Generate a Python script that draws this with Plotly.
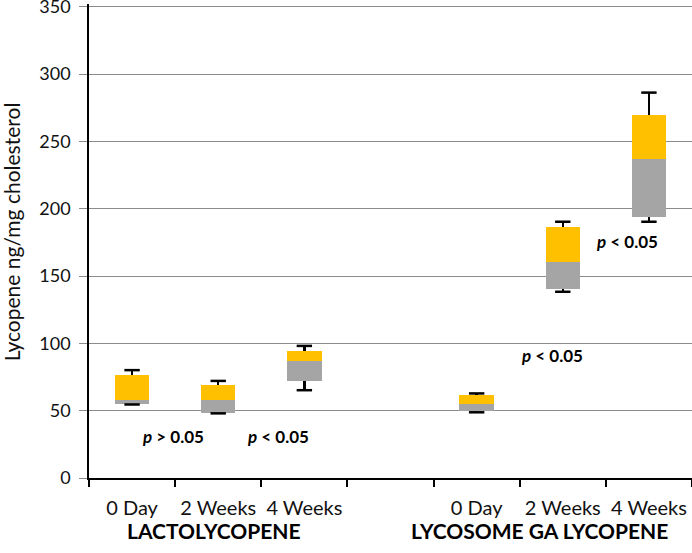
import plotly.graph_objects as go

# ---- data ----
slots = [0, 1, 2, 4, 5, 6]                       # category slot index (slot 3 is the gap)
tick_labels = ["0 Day", "2 Weeks", "4 Weeks", "", "0 Day", "2 Weeks", "4 Weeks"]
groups = ["LACTOLYCOPENE", "LYCOSOME GA LYCOPENE"]
q1 = [54.8, 48.3, 72.1, 50.1, 140.3, 193.6]
median = [57.8, 57.8, 86.8, 54.8, 160.6, 236.9]
q3 = [76.4, 68.9, 94.2, 61.5, 186.6, 269.7]
whisker_low = [54.6, 48.0, 65.2, 48.8, 138.3, 190.3]
whisker_high = [80.1, 72.1, 98.1, 62.8, 190.3, 286.2]
p_labels = ["p > 0.05", "p < 0.05", "p < 0.05", "p < 0.05"]

GRAY = "#A5A5A5"
YELLOW = "#FFC000"
FONT = "Lato"
TXT = "#111"

lower_seg = [m - a for m, a in zip(median, q1)]
upper_seg = [c - m for c, m in zip(q3, median)]

fig = go.Figure()
# invisible base bar up to Q1, carrying lower whisker stem
fig.add_trace(go.Bar(
    x=slots, y=q1, marker=dict(color="rgba(0,0,0,0)", line=dict(width=0)), width=0.4,
    hoverinfo="skip", showlegend=False,
    error_y=dict(type="data", symmetric=False,
                 array=[0] * len(q1),
                 arrayminus=[a - w for a, w in zip(q1, whisker_low)],
                 color="black", thickness=2.5, width=0),
))
fig.add_trace(go.Bar(x=slots, y=lower_seg, marker=dict(color=GRAY, line=dict(width=0)),
                     width=0.4, showlegend=False))
fig.add_trace(go.Bar(
    x=slots, y=upper_seg, marker=dict(color=YELLOW, line=dict(width=0)), width=0.4,
    showlegend=False,
    error_y=dict(type="data", symmetric=False,
                 array=[h - c for h, c in zip(whisker_high, q3)],
                 arrayminus=[0] * len(q3),
                 color="black", thickness=2.5, width=0),
))
# whisker caps
fig.add_trace(go.Scatter(
    x=slots + slots, y=whisker_high + whisker_low, mode="markers",
    marker=dict(symbol="line-ew", size=11, line=dict(color="black", width=2.5)),
    hoverinfo="skip", showlegend=False,
))

fig.update_layout(
    barmode="stack", bargap=0,
    width=692, height=553,
    margin=dict(l=89, r=0, t=4, b=75, autoexpand=False),
    plot_bgcolor="white", paper_bgcolor="white",
    font=dict(family=FONT, size=19, color=TXT),
)
fig.update_xaxes(
    range=[-0.5, 6.5], tickmode="array", automargin=False,
    tickvals=list(range(len(tick_labels))), ticktext=tick_labels,
    ticks="", showgrid=False, zeroline=False,
    showline=True, linecolor="black", linewidth=1.5,
    ticklabelstandoff=11,
    tickfont=dict(family=FONT, size=20, color=TXT),
    minor=dict(tickmode="linear", tick0=-0.5, dtick=1, ticks="outside",
               ticklen=7, tickcolor="black", tickwidth=1.5, showgrid=False),
)
fig.update_yaxes(
    range=[0, 352], tickmode="linear", tick0=0, dtick=50, automargin=False,
    showgrid=True, gridcolor="#8c8c8c", gridwidth=1,
    zeroline=False, showline=True, linecolor="black", linewidth=1.5,
    ticks="outside", ticklen=8, tickcolor="#8c8c8c",
    ticklabelstandoff=5, ticklabeloverflow="allow",
    tickfont=dict(family=FONT, size=18, color=TXT),
)

# y-axis title
fig.add_annotation(text="Lycopene ng/mg cholesterol", textangle=-90,
                   xref="paper", yref="paper", x=-0.128, y=0.52,
                   xanchor="center", yanchor="middle", showarrow=False,
                   font=dict(family=FONT, size=21, color=TXT))
# group labels
for gx, g in zip([0.95, 4.73], groups):
    fig.add_annotation(text="<b>" + g + "</b>", xref="x", yref="paper",
                       x=gx, y=-0.11, xanchor="center", yanchor="middle",
                       showarrow=False, font=dict(family=FONT, size=21, color="black"))
# p-value labels
p_pos = [(0.47, 30.5), (1.69, 30.5), (4.88, 91.2), (5.75, 176)]
for (px, py), t in zip(p_pos, p_labels):
    sym, num = t[2], t[4:]
    html = "<b><i>p</i> " + ("&gt;" if sym == ">" else "&lt;") + " " + num + "</b>"
    fig.add_annotation(text=html, x=px, y=py, xref="x", yref="y",
                       xanchor="center", yanchor="middle", showarrow=False,
                       font=dict(family=FONT, size=17, color="black"))

fig.write_html("out.html", config={"displayModeBar": False},
               post_script="document.body.style.margin='0';")
